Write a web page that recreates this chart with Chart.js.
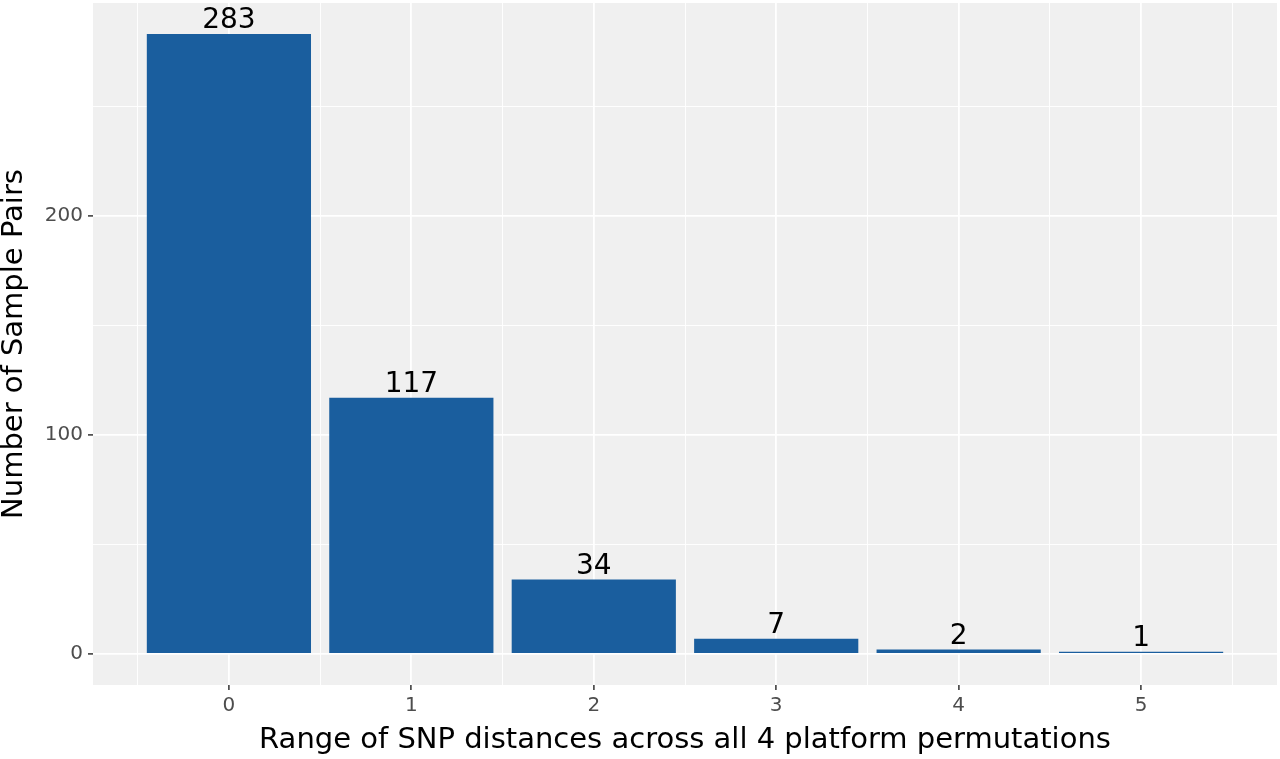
<!DOCTYPE html>
<html>
<head>
<meta charset="utf-8">
<script src="https://cdn.jsdelivr.net/npm/chart.js@4/dist/chart.umd.min.js"></script>
<style>
  html, body { margin: 0; padding: 0; background: #ffffff; }
  #wrap { width: 1280px; height: 759px; }
</style>
</head>
<body>
<div id="wrap"><canvas id="myChart"></canvas></div>
<script>
// data
var categories = ["0", "1", "2", "3", "4", "5"];
var pairCounts = [283, 117, 34, 7, 2, 1];
var yTickLabels = [0, 100, 200];
var yMinorTicks = [50, 150, 250];

// x ticks: category positions plus the half-way minor grid lines
var xTicks = [];
categories.forEach(function (c) {
  var v = Number(c);
  xTicks.push(v - 0.5, v);
});
xTicks.push(Number(categories[categories.length - 1]) + 0.5);

var yTicks = yTickLabels.concat(yMinorTicks).sort(function (a, b) { return a - b; });

// ggplot-like expansion: bars span +-0.45, then 5% each side
var xLo = -0.45, xHi = categories.length - 1 + 0.45;
var xPad = (xHi - xLo) * 0.05;
var yMax = Math.max.apply(null, pairCounts);
var yPad = yMax * 0.05;

function isMajorX(c) { return c.tick && Math.abs(c.tick.value - Math.round(c.tick.value)) < 1e-9; }
function isMajorY(c) { return c.tick && yTickLabels.indexOf(c.tick.value) >= 0; }

var panelBg = {
  id: "panelBg",
  beforeDraw: function (chart) {
    var a = chart.chartArea, ctx = chart.ctx;
    ctx.save();
    ctx.fillStyle = "#f0f0f0";
    ctx.fillRect(a.left, a.top, a.right - a.left, a.bottom - a.top);
    ctx.restore();
  }
};

var barLabels = {
  id: "barLabels",
  afterDatasetsDraw: function (chart) {
    var ctx = chart.ctx;
    var meta = chart.getDatasetMeta(0);
    ctx.save();
    ctx.fillStyle = "#000000";
    ctx.font = "28px 'DejaVu Sans'";
    ctx.textAlign = "center";
    ctx.textBaseline = "alphabetic";
    meta.data.forEach(function (bar, i) {
      ctx.fillText(String(pairCounts[i]), bar.x, bar.y - 6);
    });
    ctx.restore();
  }
};

new Chart("myChart", {
  type: "bar",
  data: {
    datasets: [
      {
        data: pairCounts.map(function (v, i) { return { x: Number(categories[i]), y: v }; }),
        backgroundColor: "#1a5e9e",
        borderWidth: 0,
        // ruler step is the half-unit tick spacing, so 1.8 * 0.5 = 0.9 units wide
        barPercentage: 1.8,
        categoryPercentage: 1
      }
    ]
  },
  plugins: [panelBg, barLabels],
  options: {
    responsive: true,
    maintainAspectRatio: false,
    animation: false,
    layout: { padding: { top: 3, right: 3, left: 0, bottom: 0 } },
    plugins: {
      legend: { display: false },
      tooltip: { enabled: false }
    },
    scales: {
      x: {
        type: "linear",
        offset: false,
        min: xLo - xPad,
        max: xHi + xPad,
        afterBuildTicks: function (scale) {
          scale.ticks = xTicks.map(function (v) { return { value: v }; });
        },
        afterFit: function (scale) {
          scale.height = 74;
          scale.paddingLeft = 0;
          scale.paddingRight = 0;
        },
        border: { display: false },
        grid: {
          offset: false,
          color: "#ffffff",
          lineWidth: function (c) { return isMajorX(c) ? 1.8 : 0.9; },
          tickColor: function (c) { return isMajorX(c) ? "#333333" : "rgba(0,0,0,0)"; },
          tickWidth: 1.5,
          tickLength: 5
        },
        ticks: {
          autoSkip: false,
          maxRotation: 0,
          padding: 4,
          color: "#4d4d4d",
          font: { family: "'DejaVu Sans'", size: 20 },
          callback: function (v) {
            return Math.abs(v - Math.round(v)) < 1e-9 ? categories[Math.round(v)] : "";
          }
        },
        title: {
          display: true,
          text: "Range of SNP distances across all 4 platform permutations",
          color: "#000000",
          font: { family: "'DejaVu Sans'", size: 29 },
          padding: { top: 0, bottom: 1 }
        }
      },
      y: {
        type: "linear",
        min: -yPad,
        max: yMax + yPad,
        afterBuildTicks: function (scale) {
          scale.ticks = yTicks.map(function (v) { return { value: v }; });
        },
        afterFit: function (scale) {
          scale.width = 93;
          scale.paddingTop = 0;
          scale.paddingBottom = 0;
        },
        border: { display: false },
        grid: {
          color: "#ffffff",
          lineWidth: function (c) { return isMajorY(c) ? 1.8 : 0.9; },
          tickColor: function (c) { return isMajorY(c) ? "#333333" : "rgba(0,0,0,0)"; },
          tickWidth: 1.5,
          tickLength: 5
        },
        ticks: {
          padding: 5,
          color: "#4d4d4d",
          font: { family: "'DejaVu Sans'", size: 20 },
          callback: function (v) { return yTickLabels.indexOf(v) >= 0 ? String(v) : ""; }
        },
        title: {
          display: true,
          text: "Number of Sample Pairs",
          color: "#000000",
          font: { family: "'DejaVu Sans'", size: 29 },
          padding: { top: -3, bottom: 0 }
        }
      }
    }
  }
});
</script>
</body>
</html>
